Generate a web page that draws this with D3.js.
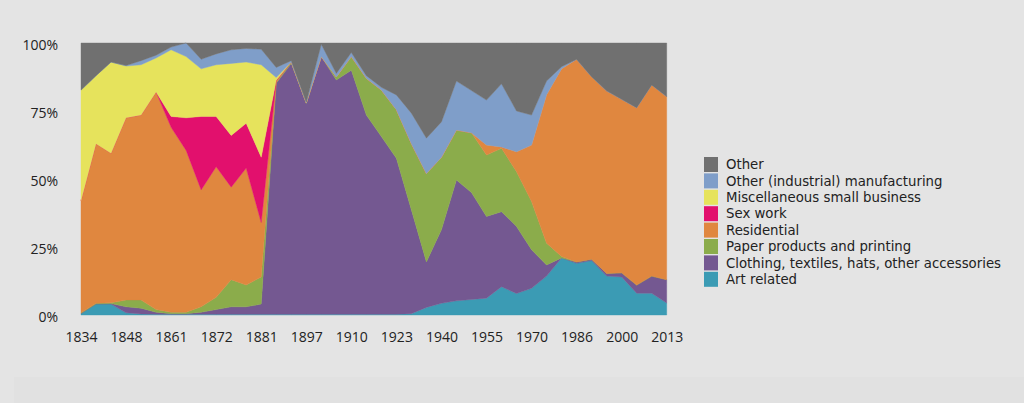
<!DOCTYPE html>
<html><head><meta charset="utf-8">
<script src="https://cdn.jsdelivr.net/npm/d3@7"></script>
<style>html,body{margin:0;padding:0;background:#e4e4e4;}svg{display:block;}</style>
</head><body>
<svg id="c" width="1024" height="403"></svg>
<script>
// Data: 40 observation points, tick labels shown on every third point
const tickLabels = ["1834","1848","1861","1872","1881","1897","1910","1923","1940","1955","1970","1986","2000","2013"];
const artRelated  = [0.5,4,4,0.8,0.4,0.3,0.3,0.3,0.3,0.3,0.3,0.3,0.3,0.3,0.3,0.3,0.3,0.3,0.3,0.3,0.3,0.3,0.5,2.8,4.3,5.2,5.7,6.2,10.4,7.9,9.8,14.3,21,19,20,14.3,14,8,8,4.4];
const clothing    = [0.1,0.1,0.2,2.2,2.1,0.7,0.2,0.2,0.7,1.7,2.7,2.7,3.7,84.9,92.2,77.5,94.7,86.1,89.7,73.2,65.3,57.3,38.1,16.7,27,44.4,39.3,30,27.6,24.6,14.2,4.1,0,0.5,0.5,1,1.5,3,6.3,8.6];
const paper       = [0.2,0.2,0.3,2.5,3,1,0.5,0.5,2,4.5,10,8,10,0.3,0.5,0.2,0,1.1,5,13.5,17.1,17.9,24.4,32.5,26.7,18.4,22,22.6,23.3,20.2,17.7,8,0.5,0,0,0,0,0,0,0];
const residential = [41.2,58.7,55,67,68,80,68,59.5,43,48,34,43,20,0.5,0,0,0,0,0,0,0,0,0,0,0,0,0,3.7,0.5,7.3,20.8,54.6,69,74.5,67.1,67.1,63.8,65.2,70.3,67.3];
const sexWork     = [0,0,0,0,0,0,4,12,27,18.5,19,16.5,24,0.3,0,0,0,0,0,0,0,0,0,0,0,0,0,0,0,0,0,0,0,0,0,0,0,0,0,0];
const miscSmall   = [40.7,25,33.5,19,18.5,12.5,24.5,22.5,17.5,19,26.5,22.5,34,1,0,0,0,0,0,0,0,0,0,0,0,0,0,0,0,0,0,0,0,0,0,0,0,0,0,0];
const otherManuf  = [0,0,0,0.2,1.5,1,1,5,3.5,4,5,5,5.7,3.7,0.5,0.3,4.5,1.3,1.5,1,1,5.4,11.2,13,13,18,15.5,16.5,23.2,15,11,5,0.8,0,0,0,0,0,0,0];
const other       = [17.3,12,7,8.3,6.5,4.5,1.5,0,6,4,2.5,2,2.3,9,6.5,21.7,0.5,11.2,3.5,12,16.3,19.1,25.8,35,29,14,17.5,21,15,25,26.5,14,8.7,6,12.4,17.6,20.7,23.8,15.4,19.7];

const seriesNames = ["Art related","Clothing, textiles, hats, other accessories","Paper products and printing","Residential","Sex work","Miscellaneous small business","Other (industrial) manufacturing","Other"];
const seriesColors = ["#3b9bb4","#745891","#8bac4b","#e0873f","#e2106d","#e6e35c","#7f9ec9","#707070"];
const seriesValues = [artRelated, clothing, paper, residential, sexWork, miscSmall, otherManuf, other];

(function () {
  const rows = artRelated.map((_, i) => {
    const r = {i};
    seriesNames.forEach((n, k) => r[n] = seriesValues[k][i]);
    return r;
  });

  const svg = d3.select("#c");
  const W = 1024, H = 403;
  svg.append("rect").attr("width", W).attr("height", H).attr("fill", "#e4e4e4");
  svg.append("rect").attr("x", 14).attr("y", 377).attr("width", W - 14).attr("height", 26).attr("fill", "#e1e1e1");

  const mLeft = 81, mRight = 666.7, mTop = 43, mBottom = 315;
  const x = d3.scaleLinear().domain([0, rows.length - 1]).range([mLeft, mRight]);
  const y = d3.scaleLinear().domain([0, 1]).range([mBottom, mTop]);

  const stack = d3.stack().keys(seriesNames).offset(d3.stackOffsetExpand);
  const layers = stack(rows);

  const area = d3.area()
    .x(d => x(d.data.i))
    .y0(d => y(d[0]))
    .y1(d => y(d[1]));

  svg.append("g").selectAll("path").data(layers).join("path")
    .attr("d", area)
    .attr("fill", (d, k) => seriesColors[k])
    .attr("stroke", (d, k) => seriesColors[k])
    .attr("stroke-width", 0.4);

  const font = "'Open Sans', sans-serif";
  const xAxis = d3.axisBottom(x)
    .tickValues(tickLabels.map((_, j) => j * 3))
    .tickFormat((d, j) => tickLabels[j])
    .tickSize(0).tickPadding(0);
  const gx = svg.append("g").attr("transform", `translate(0,${mBottom + 22})`).call(xAxis);
  gx.select(".domain").remove();
  gx.selectAll("text").attr("font-family", font).attr("font-size", 14).attr("fill", "#222").attr("dy", "0.35em");

  const yAxis = d3.axisLeft(y).tickValues([0, 0.25, 0.5, 0.75, 1]).tickFormat(d3.format(".0%")).tickSize(0).tickPadding(0);
  const gy = svg.append("g").attr("transform", "translate(58,2)").call(yAxis);
  gy.select(".domain").remove();
  gy.selectAll("text").attr("font-family", font).attr("font-size", 14).attr("fill", "#222");

  const legendOrder = seriesNames.map((n, k) => ({n, c: seriesColors[k]})).reverse();
  const lg = svg.append("g").attr("transform", "translate(704,157)");
  legendOrder.forEach((d, j) => {
    lg.append("rect").attr("x", 0).attr("y", j * 16.4).attr("width", 14).attr("height", 15).attr("fill", d.c);
    lg.append("text").attr("x", 22).attr("y", j * 16.4 + 7.5).attr("dy", "0.36em")
      .attr("font-family", "'DejaVu Sans', sans-serif").attr("font-size", 13.3).attr("fill", "#222").text(d.n);
  });
})();
</script>
</body></html>
